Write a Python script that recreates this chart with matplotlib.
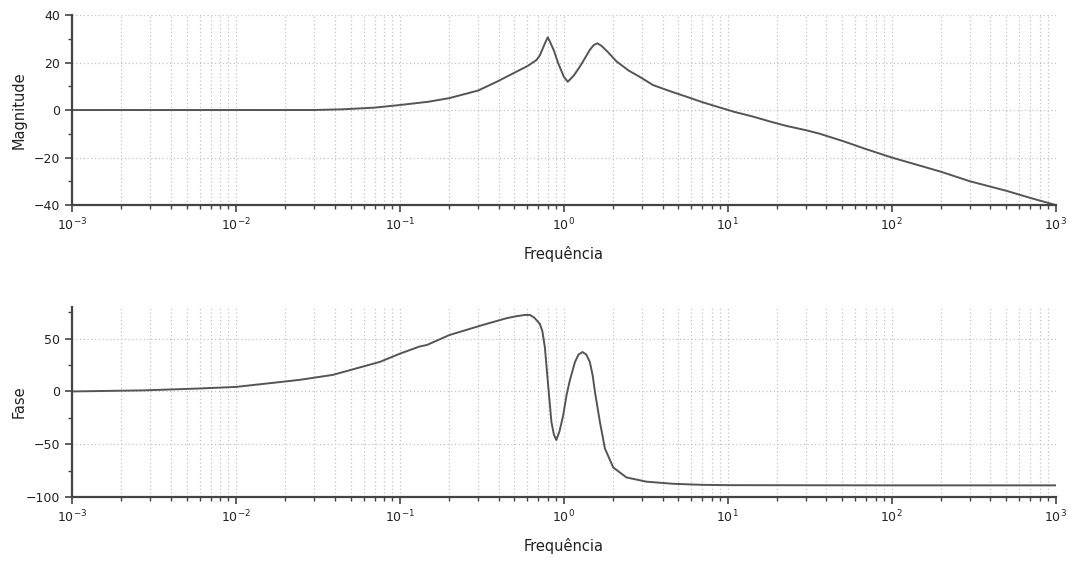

import matplotlib

matplotlib.use("Agg")
import matplotlib.pyplot as plt
from matplotlib.ticker import FixedLocator, MultipleLocator, NullFormatter

# --- magnitude curve (dB) ---
mag_freq = [0.001, 0.01, 0.03, 0.045, 0.07, 0.1, 0.15, 0.2, 0.3, 0.39, 0.49, 0.6,
            0.68, 0.714, 0.766, 0.798, 0.82, 0.87, 0.923, 1.0, 1.057, 1.15, 1.25,
            1.35, 1.44, 1.52, 1.6, 1.7, 1.85, 2.1, 2.5, 2.9, 3.5, 4.5, 5.6, 7.0,
            8.9, 11, 14.3, 18, 22.8, 30, 36.4, 50, 70, 100, 150, 200, 300, 500,
            700, 1000]
mag_db = [0.0, 0.0, 0.0, 0.3, 1.0, 2.1, 3.5, 5.0, 8.2, 11.9, 15.4, 18.5,
          21.0, 23.0, 28.0, 30.6, 29.0, 25.0, 19.8, 14.0, 11.9, 14.5, 18.2,
          22.0, 25.3, 27.3, 28.1, 27.0, 24.5, 20.4, 16.5, 14.0, 10.5, 7.8, 5.6, 3.3,
          1.1, -0.8, -2.8, -4.8, -6.7, -8.5, -10.0, -13.0, -16.5, -20.0, -23.5, -26.0, -30.0, -34.0,
          -37.0, -40.0]

# --- phase curve (degrees) ---
ph_freq = [0.001, 0.0027, 0.006, 0.01, 0.0204, 0.0245, 0.039, 0.0755, 0.1, 0.132,
           0.146, 0.2, 0.32, 0.45, 0.514, 0.58, 0.62, 0.66, 0.714, 0.74, 0.766,
           0.80, 0.84, 0.87, 0.90, 0.94, 0.99, 1.04, 1.09, 1.17, 1.23, 1.30, 1.37,
           1.44, 1.50, 1.55, 1.66, 1.78, 2.0, 2.41, 3.19, 4.64, 7.0, 10, 100, 1000]
ph_deg = [0.0, 1.0, 2.8, 4.3, 9.6, 11.0, 15.7, 28.0, 35.8, 42.6,
          44.0, 53.4, 63.0, 69.5, 71.3, 72.5, 72.5, 70.0, 64.0, 57.0, 42.0,
          8.0, -29.0, -41.0, -46.0, -38.0, -23.0, -3.0, 11.0, 28.0, 35.0, 37.3, 35.0,
          28.0, 15.0, -1.0, -29.0, -54.0, -72.0, -81.5, -85.5, -87.5, -88.5, -88.8, -89.0, -89.0]

decades = [1e-3, 1e-2, 1e-1, 1e0, 1e1, 1e2, 1e3]

LINE = "#555555"
SPINE = "#444444"
GRID = "#c4c4c4"
TEXT = "#222222"


def style_axis(ax, ylim, major, minor, ylabel):
    ax.set_xscale("log")
    ax.set_xlim(decades[0], decades[-1])
    ax.set_ylim(*ylim)
    ax.yaxis.set_major_locator(MultipleLocator(major))
    ax.yaxis.set_minor_locator(MultipleLocator(minor))
    ax.xaxis.set_major_locator(FixedLocator(decades))
    ax.xaxis.set_minor_locator(FixedLocator([d * k for d in decades[:-1] for k in range(2, 10)]))
    ax.xaxis.set_minor_formatter(NullFormatter())
    for side in ("top", "right"):
        ax.spines[side].set_visible(False)
    for side in ("left", "bottom"):
        ax.spines[side].set_color(SPINE)
        ax.spines[side].set_linewidth(1.6)
    ax.grid(True, which="major", axis="both", linestyle=(0, (1, 2)), color=GRID, linewidth=0.9)
    ax.grid(True, which="minor", axis="x", linestyle=(0, (1, 2)), color=GRID, linewidth=0.9)
    ax.tick_params(which="major", direction="out", length=5, width=1.2, color=SPINE,
                   labelsize=9, labelcolor=TEXT)
    ax.tick_params(which="minor", direction="out", length=3, width=1.0, color=SPINE)
    ax.set_xlabel("Frequência", fontsize=10.5, color=TEXT, labelpad=9)
    ax.set_ylabel(ylabel, fontsize=10.5, color=TEXT)
    ax.yaxis.set_label_coords(-0.046, 0.5)
    ax.set_axisbelow(True)


def main():
    fig = plt.figure(figsize=(10.75, 5.62), dpi=100)
    ax_mag = fig.add_axes([0.067, 0.6352, 0.915, 0.3381])
    ax_ph = fig.add_axes([0.067, 0.1157, 0.915, 0.338])

    ax_mag.plot(mag_freq, mag_db, color=LINE, linewidth=1.4, clip_on=False)
    style_axis(ax_mag, (-40, 40), 20, 10, "Magnitude")

    ax_ph.plot(ph_freq, ph_deg, color=LINE, linewidth=1.4)
    style_axis(ax_ph, (-100, 80), 50, 25, "Fase")

    fig.savefig("out.png", dpi=100)


if __name__ == "__main__":
    main()
